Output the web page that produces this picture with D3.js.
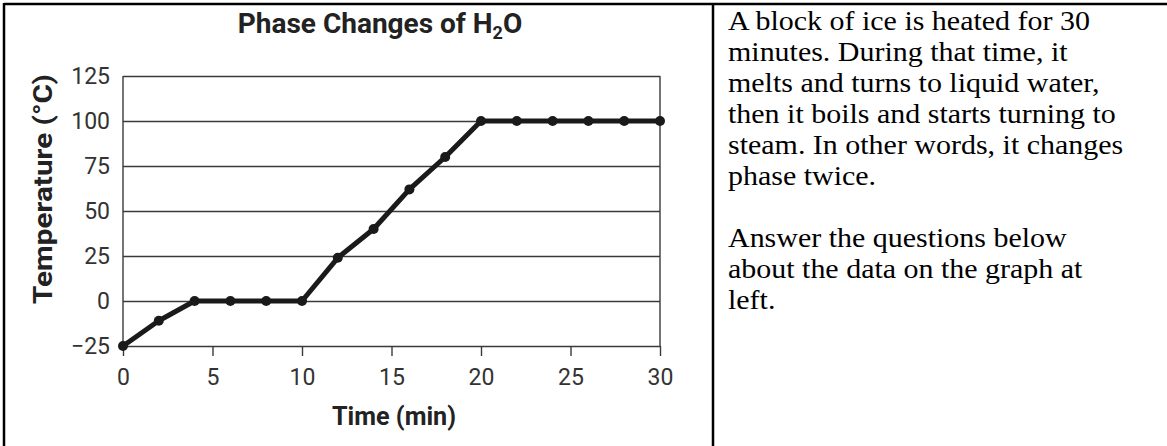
<!DOCTYPE html>
<html>
<head>
<meta charset="utf-8">
<script src="https://cdn.jsdelivr.net/npm/d3@7"></script>
<style>
  html, body { margin: 0; padding: 0; background: #fff; }
  svg { display: block; }
</style>
</head>
<body>
<svg id="page" width="1167" height="446"></svg>
<script>
// data
var times = [0, 2, 4, 6, 8, 10, 12, 14, 16, 18, 20, 22, 24, 26, 28, 30];
var temps = [-25, -11, 0, 0, 0, 0, 24, 40, 62, 80, 100, 100, 100, 100, 100, 100];
var xTicks = [0, 5, 10, 15, 20, 25, 30];
var yTicks = [-25, 0, 25, 50, 75, 100, 125];
var textLines = [
  "A block of ice is heated for 30",
  "minutes. During that time, it",
  "melts and turns to liquid water,",
  "then it boils and starts turning to",
  "steam. In other words, it changes",
  "phase twice.",
  "",
  "Answer the questions below",
  "about the data on the graph at",
  "left."
];

var chartFont = "Roboto, 'Open Sans', sans-serif";
var svg = d3.select("#page");

// table borders
svg.append("line").attr("x1", 4).attr("y1", 4).attr("x2", 1167).attr("y2", 4)
  .attr("stroke", "#000").attr("stroke-width", 2.5);
svg.append("line").attr("x1", 4).attr("y1", 3).attr("x2", 4).attr("y2", 446)
  .attr("stroke", "#000").attr("stroke-width", 2.5);
svg.append("line").attr("x1", 713).attr("y1", 3).attr("x2", 713).attr("y2", 446)
  .attr("stroke", "#000").attr("stroke-width", 2.5);

var x = d3.scaleLinear().domain([0, 30]).range([123, 660]);
var y = d3.scaleLinear().domain([-25, 125]).range([346, 76]);

// horizontal grid (one per y tick)
svg.append("g")
  .attr("transform", "translate(" + x(0) + ",0)")
  .call(d3.axisLeft(y).tickValues(yTicks).tickSize(-(x(30) - x(0))).tickFormat(""))
  .call(function(g) {
    g.select(".domain").remove();
    g.selectAll("line").attr("stroke", "#3a3a3a").attr("stroke-width", 1.4);
  });

// side frame lines
svg.append("line").attr("x1", x(0)).attr("x2", x(0)).attr("y1", y(125)).attr("y2", y(-25))
  .attr("stroke", "#3a3a3a").attr("stroke-width", 1.4);
svg.append("line").attr("x1", x(30)).attr("x2", x(30)).attr("y1", y(125)).attr("y2", y(-25))
  .attr("stroke", "#3a3a3a").attr("stroke-width", 1.4);

// y tick labels
svg.append("g")
  .attr("transform", "translate(" + x(0) + ",0)")
  .call(d3.axisLeft(y).tickValues(yTicks).tickSize(0).tickPadding(13)
    .tickFormat(function(d) { return d < 0 ? "\u2212" + Math.abs(d) : d; }))
  .call(function(g) {
    g.select(".domain").remove();
    g.selectAll("text").attr("font-family", chartFont).attr("font-size", 23).attr("fill", "#333");
  });

// x axis with ticks below
svg.append("g")
  .attr("transform", "translate(0," + y(-25) + ")")
  .call(d3.axisBottom(x).tickValues(xTicks).tickSize(10).tickPadding(13))
  .call(function(g) {
    g.select(".domain").remove();
    g.selectAll("line").attr("stroke", "#3a3a3a").attr("stroke-width", 1.4);
    g.selectAll("text").attr("font-family", chartFont).attr("font-size", 23).attr("fill", "#333");
  });

// data line and points
var pts = times.map(function(t, i) { return [t, temps[i]]; });
svg.append("path")
  .datum(pts)
  .attr("fill", "none")
  .attr("stroke", "#1a1a1a")
  .attr("stroke-width", 5)
  .attr("stroke-linejoin", "round")
  .attr("d", d3.line().x(function(d) { return x(d[0]); }).y(function(d) { return y(d[1]); }));
svg.selectAll("circle.pt")
  .data(pts)
  .enter().append("circle")
  .attr("class", "pt")
  .attr("cx", function(d) { return x(d[0]); })
  .attr("cy", function(d) { return y(d[1]); })
  .attr("r", 5)
  .attr("fill", "#1a1a1a");

// title
var title = svg.append("text")
  .attr("x", 380).attr("y", 33)
  .attr("text-anchor", "middle")
  .attr("font-family", chartFont).attr("font-size", 28).attr("font-weight", "bold")
  .attr("fill", "#222");
title.append("tspan").text("Phase Changes of H");
title.append("tspan").attr("font-size", 18).attr("dy", 6).text("2");
title.append("tspan").attr("dy", -6).text("O");

// axis titles
svg.append("text")
  .attr("x", 394).attr("y", 425)
  .attr("text-anchor", "middle")
  .attr("font-family", chartFont).attr("font-size", 25).attr("font-weight", "bold")
  .attr("fill", "#222")
  .attr("textLength", 124).attr("lengthAdjust", "spacingAndGlyphs")
  .text("Time (min)");
svg.append("text")
  .attr("transform", "translate(52,189) rotate(-90)")
  .attr("text-anchor", "middle")
  .attr("font-family", chartFont).attr("font-size", 26).attr("font-weight", "bold")
  .attr("fill", "#222")
  .attr("textLength", 230).attr("lengthAdjust", "spacingAndGlyphs")
  .text("Temperature (\u00B0C)");

// paragraph on the right (source looks stretched sideways a little)
svg.append("g")
  .attr("transform", "translate(728,0) scale(1.11,1)")
  .selectAll("text")
  .data(textLines)
  .enter().append("text")
  .attr("x", 0)
  .attr("y", function(d, i) { return 30 + i * 31; })
  .attr("font-family", "'Liberation Serif', 'Times New Roman', serif")
  .attr("font-size", 27)
  .attr("fill", "#000")
  .text(function(d) { return d; });
</script>
</body>
</html>
